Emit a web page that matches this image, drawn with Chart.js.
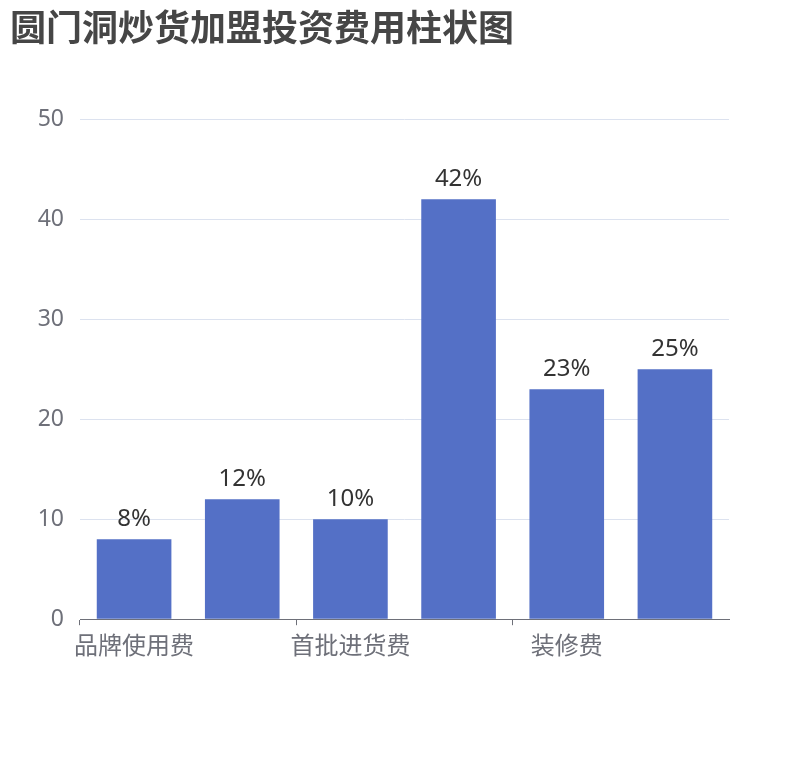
<!DOCTYPE html>
<html>
<head>
<meta charset="utf-8">
<script src="https://cdn.jsdelivr.net/npm/chart.js@4.4.0/dist/chart.umd.min.js"></script>
<style>
  body { margin: 0; background: #fff; }
  #box { width: 810px; height: 760px; position: relative; }
</style>
</head>
<body>
<div id="box"><canvas id="graph"></canvas></div>
<script>
// categories (odd ones are hidden on the axis in the picture)
var categories = ["品牌使用费", "", "首批进货费", "", "装修费", ""];
var shares = [8, 12, 10, 42, 23, 25];
var yTicks = [0, 10, 20, 30, 40, 50];

var fontFamily = "'Noto Sans', 'Noto Sans CJK SC', sans-serif";
var cjkFamily = "'Noto Sans CJK SC', 'Noto Sans', sans-serif";

// draws the "xx%" text above each bar
var barLabels = {
    id: 'barLabels',
    afterDatasetsDraw: function (chart) {
        var ctx = chart.ctx;
        var meta = chart.getDatasetMeta(0);
        ctx.save();
        ctx.font = "24px " + fontFamily;
        ctx.fillStyle = "#333";
        ctx.textAlign = "center";
        ctx.textBaseline = "bottom";
        meta.data.forEach(function (bar, i) {
            ctx.fillText(shares[i] + "%", bar.x, bar.y - 8);
        });
        ctx.restore();
    }
};

var config = {
    type: 'bar',
    data: {
        labels: categories,
        datasets: [{
            data: shares,
            backgroundColor: '#5470C6',
            barPercentage: 0.69,
            categoryPercentage: 1
        }]
    },
    options: {
        responsive: true,
        maintainAspectRatio: false,
        animation: false,
        layout: { padding: { left: 10, right: 81, top: 6, bottom: 96 } },
        plugins: {
            legend: { display: false },
            tooltip: { enabled: false },
            title: {
                display: true,
                text: '圆门洞炒货加盟投资费用柱状图',
                align: 'start',
                color: '#464646',
                font: { family: cjkFamily, size: 36, weight: 'bold' },
                padding: { top: 0, bottom: 70 }
            }
        },
        scales: {
            x: {
                grid: {
                    offset: true,
                    drawOnChartArea: false,
                    drawTicks: true,
                    tickLength: 6,
                    color: function (c) { return c.index % 2 === 0 ? '#6E7079' : 'rgba(0,0,0,0)'; }
                },
                border: { color: '#6E7079', width: 1 },
                ticks: {
                    autoSkip: false,
                    maxRotation: 0,
                    padding: 5,
                    color: '#6E7079',
                    font: { family: cjkFamily, size: 24 }
                }
            },
            y: {
                min: 0,
                max: 50,
                afterBuildTicks: function (scale) {
                    scale.ticks = yTicks.map(function (v) { return { value: v }; });
                },
                afterFit: function (scale) { scale.width = 70; },
                grid: { color: '#DCE2EF', drawTicks: false },
                border: { display: false },
                ticks: {
                    padding: 16,
                    color: '#6E7079',
                    font: { family: fontFamily, size: 23 }
                }
            }
        }
    },
    plugins: [barLabels]
};

new Chart(document.getElementById('graph').getContext('2d'), config);
</script>
</body>
</html>
